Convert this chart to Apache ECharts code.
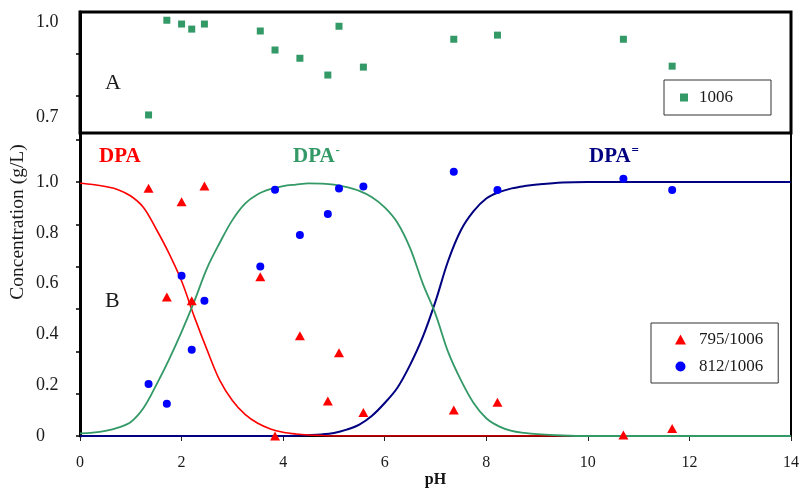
<!DOCTYPE html>
<html>
<head>
<meta charset="utf-8">
<script src="https://cdn.jsdelivr.net/npm/echarts@6/dist/echarts.min.js"></script>
<style>html,body{margin:0;padding:0;background:#fff;}#c{width:801px;height:489px;}</style>
</head>
<body>
<div id="c"></div>
<script>
// Sample pH values (shared by all measured series)
const samplePH = [1.35, 1.71, 2.0, 2.2, 2.45, 3.55, 3.84, 4.33, 4.88, 5.1, 5.58, 7.36, 8.22, 10.7, 11.66];
// Panel A: 1006
const conc1006 = [0.707, 1.006, 0.994, 0.978, 0.994, 0.972, 0.912, 0.886, 0.833, 0.987, 0.858, 0.946, 0.959, 0.946, 0.861];
// Panel B: 795/1006 (triangles) and 812/1006 (circles)
const conc795 = [0.975, 0.547, 0.922, 0.533, 0.984, 0.627, 0.0, 0.395, 0.138, 0.328, 0.093, 0.102, 0.133, 0.004, 0.03];
const conc812 = [0.205, 0.127, 0.631, 0.340, 0.533, 0.667, 0.970, 0.791, 0.874, 0.974, 0.982, 1.04, 0.969, 1.013, 0.969];

// Speciation curves
const curvePH   = [0, 0.25, 0.5, 0.75, 1.0, 1.25, 1.5, 1.75, 2.0, 2.25, 2.5, 2.75, 3.0, 3.25, 3.5, 3.75, 4.0, 4.25, 4.5, 4.75, 5.0, 5.25, 5.5, 5.75, 6.0, 6.25, 6.5, 6.75, 7.0, 7.25, 7.5, 7.75, 8.0, 8.25, 8.5, 8.75, 9.0, 9.5, 10, 11, 12, 13, 14];
const curveDPA  = [0.995, 0.99, 0.982, 0.97, 0.945, 0.90, 0.815, 0.72, 0.61, 0.47, 0.34, 0.22, 0.14, 0.085, 0.05, 0.028, 0.015, 0.008, 0.004, 0.002, 0, 0, 0, 0, 0, 0, 0, 0, 0, 0, 0, 0, 0, 0, 0, 0, 0, 0, 0, 0, 0, 0, 0];
const curveDPA1 = [0.01, 0.013, 0.02, 0.033, 0.055, 0.11, 0.20, 0.30, 0.41, 0.53, 0.66, 0.76, 0.85, 0.915, 0.952, 0.972, 0.984, 0.99, 0.995, 0.994, 0.99, 0.98, 0.965, 0.94, 0.90, 0.84, 0.74, 0.60, 0.48, 0.33, 0.22, 0.13, 0.07, 0.038, 0.02, 0.012, 0.007, 0.002, 0, 0, 0, 0, 0];
const curveDPA2 = [0, 0, 0, 0, 0, 0, 0, 0, 0, 0, 0, 0, 0, 0, 0, 0, 0, 0.001, 0.003, 0.006, 0.012, 0.025, 0.045, 0.08, 0.13, 0.19, 0.28, 0.39, 0.53, 0.69, 0.81, 0.885, 0.935, 0.96, 0.975, 0.984, 0.99, 0.998, 1.0, 1.0, 1.0, 1.0, 1.0];

// Axis labels / ticks
const topYLabels = [0.7, 1.0];
const topYTicks = [0.767, 0.899];
const botYLabels = [0, 0.2, 0.4, 0.6, 0.8, 1.0];
const botYTicks = [0, 1/6, 2/6, 3/6, 4/6, 5/6, 6/6, 7/6];

const zip = (xs, ys) => xs.map((x, i) => [x, ys[i]]);
const SERIF = '"Liberation Serif", "DejaVu Serif", serif';
const GREEN = '#339966', NAVY = '#000080', RED = '#ff0000', BLUE = '#0000ff';

const chart = echarts.init(document.getElementById('c'), null, {renderer: 'canvas'});
chart.setOption({
  animation: false,
  backgroundColor: '#fff',
  grid: [
    {left: 80, right: 10, top: 12, height: 121, show: true, borderColor: '#000', borderWidth: 3, containLabel: false, outerBoundsMode: 'none'},
    {left: 80, right: 10, top: 133, bottom: 53, show: true, borderColor: '#000', borderWidth: 2, containLabel: false, outerBoundsMode: 'none'}
  ],
  xAxis: [
    {gridIndex: 0, type: 'value', min: 0, max: 14, interval: 2, axisLine: {show: false}, axisTick: {show: false}, axisLabel: {show: false}, splitLine: {show: false}},
    {gridIndex: 1, type: 'value', min: 0, max: 14, interval: 2,
     name: 'pH', nameLocation: 'middle', nameGap: 36, nameMoveOverlap: false,
     nameTextStyle: {fontFamily: SERIF, fontWeight: 'bold', fontSize: 16, color: '#111'},
     axisLine: {show: true, lineStyle: {color: '#000', width: 1}},
     axisTick: {show: true, inside: false, length: 5, lineStyle: {color: '#222'}},
     axisLabel: {fontFamily: SERIF, fontSize: 16, color: '#1a1a1a', margin: 19},
     splitLine: {show: false}}
  ],
  yAxis: [
    {gridIndex: 0, type: 'value', min: 0.65, max: 1.032,
     axisLine: {show: true, lineStyle: {color: '#000', width: 3}},
     axisTick: {show: true, inside: false, length: 4, customValues: topYTicks, lineStyle: {color: '#000', width: 1.5}},
     axisLabel: {customValues: topYLabels, formatter: v => v.toFixed(1), fontFamily: SERIF, fontSize: 18, color: '#1a1a1a', margin: 44, align: 'left'},
     splitLine: {show: false}},
    {gridIndex: 1, type: 'value', min: 0, max: 1.193,
     axisLine: {show: true, lineStyle: {color: '#000', width: 3}},
     axisTick: {show: true, inside: false, length: 4, customValues: botYTicks, lineStyle: {color: '#000', width: 1.5}},
     axisLabel: {customValues: botYLabels, formatter: v => (v === 0 ? '0' : v.toFixed(1)), fontFamily: SERIF, fontSize: 18, color: '#1a1a1a', margin: 44, align: 'left'},
     splitLine: {show: false}}
  ],
  legend: [
    {data: ['1006'], left: 664, top: 80, orient: 'horizontal',
     backgroundColor: '#fff', borderColor: '#333', borderWidth: 1,
     padding: [9, 38, 9, 16], itemWidth: 8, itemHeight: 8,
     textStyle: {fontFamily: SERIF, fontSize: 17, color: '#1a1a1a', padding: [0, 0, 0, 6]}},
    {data: ['795/1006', '812/1006'], left: 651, top: 323, orient: 'vertical', itemGap: 10,
     backgroundColor: '#fff', borderColor: '#333', borderWidth: 1,
     padding: [8, 15, 8, 24], itemWidth: 11, itemHeight: 10,
     textStyle: {fontFamily: SERIF, fontSize: 17, color: '#1a1a1a', padding: [0, 0, 0, 8]}}
  ],
  series: [
    {name: '1006', type: 'scatter', xAxisIndex: 0, yAxisIndex: 0, symbol: 'rect', symbolSize: 7,
     itemStyle: {color: GREEN, opacity: 1}, data: zip(samplePH, conc1006)},
    {name: 'DPA=', type: 'line', xAxisIndex: 1, yAxisIndex: 1, showSymbol: false, smooth: 0.35,
     lineStyle: {color: NAVY, width: 2}, itemStyle: {color: NAVY}, data: zip(curvePH, curveDPA2)},
    {name: 'DPA', type: 'line', xAxisIndex: 1, yAxisIndex: 1, showSymbol: false, smooth: 0.35,
     lineStyle: {color: RED, width: 1.6}, itemStyle: {color: RED}, data: zip(curvePH, curveDPA)},
    {name: 'DPA-', type: 'line', xAxisIndex: 1, yAxisIndex: 1, showSymbol: false, smooth: 0.35,
     lineStyle: {color: GREEN, width: 1.8}, itemStyle: {color: GREEN}, data: zip(curvePH, curveDPA1)},
    {name: '795/1006', type: 'scatter', xAxisIndex: 1, yAxisIndex: 1, symbol: 'triangle', symbolSize: [10, 9],
     itemStyle: {color: RED, opacity: 1}, data: zip(samplePH, conc795), z: 5},
    {name: '812/1006', type: 'scatter', xAxisIndex: 1, yAxisIndex: 1, symbol: 'circle', symbolSize: 8,
     itemStyle: {color: BLUE, opacity: 1}, data: zip(samplePH, conc812), z: 5}
  ],
  graphic: [
    {type: 'text', left: 105, top: 72, style: {text: 'A', font: '22px ' + SERIF, fill: '#1a1a1a'}},
    {type: 'text', left: 105, top: 290, style: {text: 'B', font: '22px ' + SERIF, fill: '#1a1a1a'}},
    {type: 'text', left: 99, top: 146, style: {text: 'DPA', font: 'bold 21px ' + SERIF, fill: RED}},
    {type: 'text', left: 293, top: 144, style: {text: '{m|DPA}{s|-}', rich: {
       m: {fontFamily: SERIF, fontWeight: 'bold', fontSize: 21, fill: GREEN, verticalAlign: 'bottom'},
       s: {fontFamily: SERIF, fontWeight: 'bold', fontSize: 13, fill: GREEN, verticalAlign: 'top', padding: [0, 0, 10, 1]}}}},
    {type: 'text', left: 589, top: 144, style: {text: '{m|DPA}{s|=}', rich: {
       m: {fontFamily: SERIF, fontWeight: 'bold', fontSize: 21, fill: NAVY, verticalAlign: 'bottom'},
       s: {fontFamily: SERIF, fontWeight: 'bold', fontSize: 13, fill: NAVY, verticalAlign: 'top', padding: [0, 0, 10, 1]}}}},
    {type: 'text', x: 18, y: 222, rotation: Math.PI / 2,
     style: {text: 'Concentration (g/L)', font: '19.5px ' + SERIF, fill: '#1a1a1a', align: 'center', verticalAlign: 'middle'}}
  ]
});
</script>
</body>
</html>
